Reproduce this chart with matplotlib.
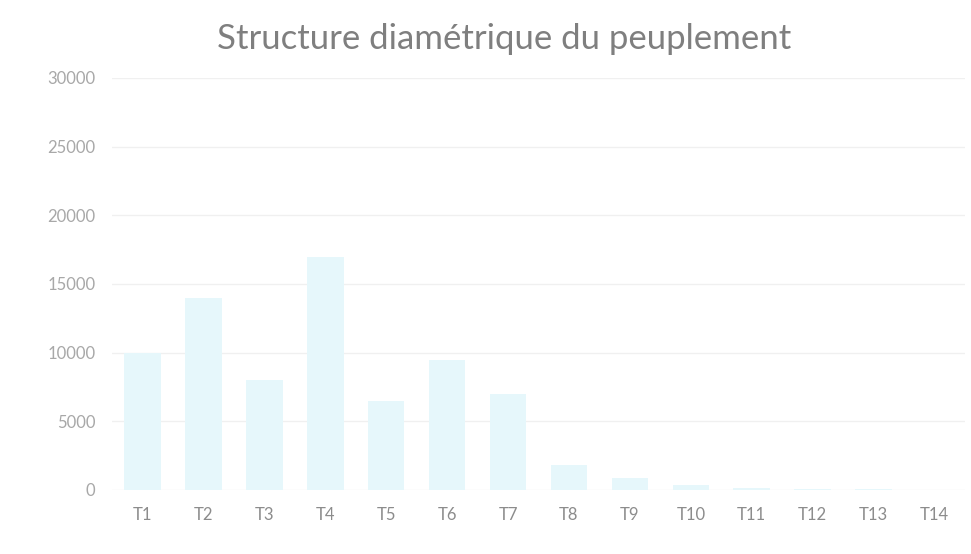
import matplotlib
matplotlib.use("Agg")
import matplotlib.pyplot as plt

categories = ["T1", "T2", "T3", "T4", "T5", "T6", "T7", "T8", "T9", "T10", "T11", "T12", "T13", "T14"]
values = [10000, 14000, 8000, 17000, 6500, 9500, 7000, 1800, 900, 400, 150, 80, 40, 20]
yticks = [0, 5000, 10000, 15000, 20000, 25000, 30000]

plt.rcParams['font.family'] = ['Lato', 'DejaVu Sans']

fig = plt.figure(figsize=(9.71, 5.54), dpi=100)
ax = fig.add_axes([112/971, 1 - 490/554, 853/971, (490 - 78)/554])

x = list(range(len(categories)))
ax.bar(x, values, width=0.6, color="#e6f7fb", zorder=2)

ax.set_xlim(-0.5, len(categories) - 0.5)
ax.set_ylim(0, 30000)
ax.set_yticks(yticks)
ax.set_yticklabels([str(v) for v in yticks], color="#a8a8a8", fontsize=12)
ax.set_xticks(x)
ax.set_xticklabels(categories, color="#8c8c8c", fontsize=12)
ax.tick_params(axis="both", length=0, pad=12)
ax.grid(axis="y", color="#f0f0f0", linewidth=1, zorder=0)
for s in ax.spines.values():
    s.set_visible(False)

fig.text(0.519, 0.93, "Structure diamétrique du peuplement", ha="center", va="center",
         fontsize=25, color="#7f7f7f")

fig.savefig("out.png", dpi=100)
